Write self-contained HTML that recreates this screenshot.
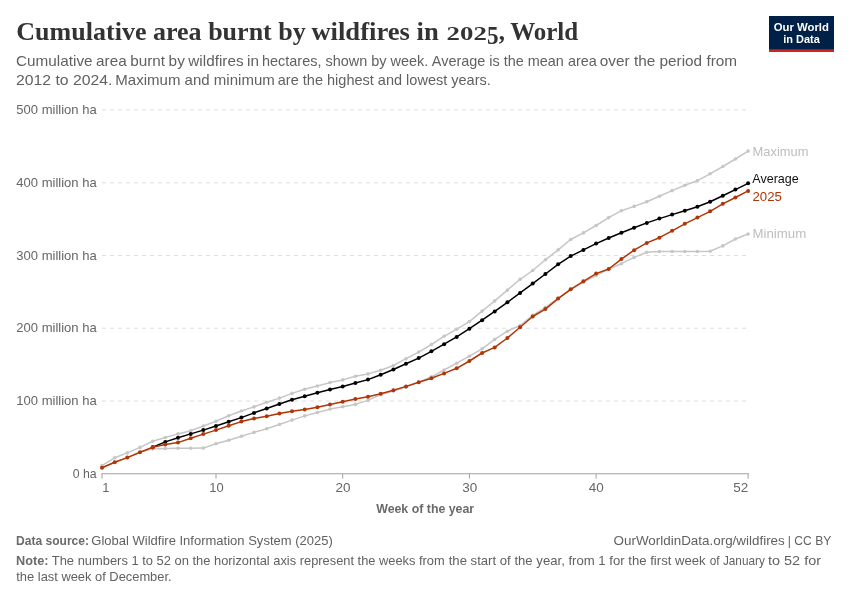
<!DOCTYPE html>
<html lang="en"><head><meta charset="utf-8"><title>Cumulative area burnt by wildfires in 2025, World</title>
<style>
html,body{margin:0;padding:0;background:#fff;}
svg{display:block;font-family:"Liberation Sans",sans-serif;}
.title{font-family:"Liberation Serif",serif;font-weight:bold;font-size:25.6px;fill:#333;}
.sub{font-size:14.4px;fill:#616161;}
.tick{font-size:13.1px;fill:#666;}
.foot{font-size:12.8px;fill:#616161;}
.lab{font-size:13.2px;}
</style></head><body>
<svg width="850" height="600" viewBox="0 0 850 600">
<rect width="850" height="600" fill="#fff"/>
<text class="title"><tspan x="16.3" y="39.8" textLength="289.5" lengthAdjust="spacingAndGlyphs">Cumulative area burnt by</tspan> <tspan x="311.4" y="39.8" textLength="127.3" lengthAdjust="spacingAndGlyphs">wildfires in</tspan> <tspan x="446.6" y="39.8" textLength="40.2" lengthAdjust="spacingAndGlyphs" style="font-size:19.6px">202</tspan><tspan x="487" y="43.6" textLength="11.6" lengthAdjust="spacingAndGlyphs">5</tspan><tspan x="498.8" y="39.8" textLength="6.2" lengthAdjust="spacingAndGlyphs">,</tspan> <tspan x="510.2" y="39.8" textLength="68" lengthAdjust="spacingAndGlyphs">World</tspan></text>

<text class="sub"><tspan x="16" y="66.3" textLength="243" lengthAdjust="spacingAndGlyphs" style="word-spacing:-0.7px">Cumulative area burnt by wildfires in</tspan> <tspan x="262" y="66.3" textLength="166.3" lengthAdjust="spacingAndGlyphs">hectares, shown by week.</tspan> <tspan x="431.8" y="66.3" textLength="165" lengthAdjust="spacingAndGlyphs">Average is the mean area</tspan> <tspan x="599.8" y="66.3" textLength="137.3" lengthAdjust="spacingAndGlyphs">over the period from</tspan></text>
<text class="sub"><tspan x="16" y="84.5" textLength="96.5" lengthAdjust="spacingAndGlyphs">2012 to 2024.</tspan> <tspan x="115.3" y="84.5" textLength="159.5" lengthAdjust="spacingAndGlyphs">Maximum and minimum</tspan> <tspan x="277.8" y="84.5" textLength="213" lengthAdjust="spacingAndGlyphs">are the highest and lowest years.</tspan></text>

<g>
<rect x="769" y="16" width="65" height="36" fill="#002147"/>
<rect x="769" y="49.3" width="65" height="2.7" fill="#ce261e"/>
<text x="801.3" y="30.8" text-anchor="middle" font-size="11" font-weight="bold" fill="#fff" textLength="55.2" lengthAdjust="spacingAndGlyphs">Our World</text>
<text x="801.5" y="42.6" text-anchor="middle" font-size="11" font-weight="bold" fill="#fff" textLength="36.6" lengthAdjust="spacingAndGlyphs">in Data</text>
</g>
<text x="96.7" y="114.0" class="tick" text-anchor="end" textLength="80.4" lengthAdjust="spacingAndGlyphs">500 million ha</text>
<line x1="102" x2="748" y1="110.0" y2="110.0" stroke="#ddd" stroke-width="1" stroke-dasharray="4,4"/>
<text x="96.7" y="186.8" class="tick" text-anchor="end" textLength="80.4" lengthAdjust="spacingAndGlyphs">400 million ha</text>
<line x1="102" x2="748" y1="182.8" y2="182.8" stroke="#ddd" stroke-width="1" stroke-dasharray="4,4"/>
<text x="96.7" y="259.5" class="tick" text-anchor="end" textLength="80.4" lengthAdjust="spacingAndGlyphs">300 million ha</text>
<line x1="102" x2="748" y1="255.5" y2="255.5" stroke="#ddd" stroke-width="1" stroke-dasharray="4,4"/>
<text x="96.7" y="332.2" class="tick" text-anchor="end" textLength="80.4" lengthAdjust="spacingAndGlyphs">200 million ha</text>
<line x1="102" x2="748" y1="328.2" y2="328.2" stroke="#ddd" stroke-width="1" stroke-dasharray="4,4"/>
<text x="96.7" y="405.0" class="tick" text-anchor="end" textLength="80.4" lengthAdjust="spacingAndGlyphs">100 million ha</text>
<line x1="102" x2="748" y1="401.0" y2="401.0" stroke="#ddd" stroke-width="1" stroke-dasharray="4,4"/>
<text x="96.7" y="477.6" class="tick" text-anchor="end" textLength="24" lengthAdjust="spacingAndGlyphs">0 ha</text>

<line x1="101.5" x2="748.7" y1="473.75" y2="473.75" stroke="#a1a1a1" stroke-width="1"/>
<line x1="102.0" x2="102.0" y1="473.75" y2="478.65" stroke="#a1a1a1" stroke-width="1"/>
<line x1="216.0" x2="216.0" y1="473.75" y2="478.65" stroke="#a1a1a1" stroke-width="1"/>
<line x1="342.7" x2="342.7" y1="473.75" y2="478.65" stroke="#a1a1a1" stroke-width="1"/>
<line x1="469.4" x2="469.4" y1="473.75" y2="478.65" stroke="#a1a1a1" stroke-width="1"/>
<line x1="596.1" x2="596.1" y1="473.75" y2="478.65" stroke="#a1a1a1" stroke-width="1"/>
<line x1="748.1" x2="748.1" y1="473.75" y2="478.65" stroke="#a1a1a1" stroke-width="1"/>
<text x="102.2" y="491.7" class="tick" textLength="7.2" lengthAdjust="spacingAndGlyphs">1</text>
<text x="216.4" y="491.7" class="tick" text-anchor="middle" textLength="14.4" lengthAdjust="spacingAndGlyphs">10</text>
<text x="343" y="491.7" class="tick" text-anchor="middle" textLength="15" lengthAdjust="spacingAndGlyphs">20</text>
<text x="469.6901960784314" y="491.7" class="tick" text-anchor="middle" textLength="15" lengthAdjust="spacingAndGlyphs">30</text>
<text x="596.3764705882353" y="491.7" class="tick" text-anchor="middle" textLength="15" lengthAdjust="spacingAndGlyphs">40</text>
<text x="748.3" y="491.7" class="tick" text-anchor="end" textLength="15" lengthAdjust="spacingAndGlyphs">52</text>

<text x="425.2" y="512.9" class="foot" text-anchor="middle" textLength="98" lengthAdjust="spacingAndGlyphs" font-weight="bold" style="fill:#6a6a6a">Week of the year</text>

<polyline fill="none" stroke="#c6c6c6" stroke-width="1.5" stroke-linejoin="round" stroke-linecap="round" points="102.0,465.6 114.7,457.8 127.3,452.9 140.0,447.4 152.7,441.3 165.3,437.5 178.0,433.9 190.7,430.7 203.3,426.0 216.0,421.2 228.7,415.7 241.4,411.0 254.0,406.9 266.7,402.3 279.4,398.1 292.0,393.4 304.7,389.2 317.4,386.0 330.0,382.6 342.7,379.9 355.4,376.3 368.0,373.9 380.7,370.3 393.4,365.5 406.0,358.7 418.7,352.1 431.4,344.5 444.1,336.3 456.7,329.2 469.4,321.6 482.1,311.1 494.7,300.9 507.4,290.1 520.1,279.3 532.7,270.5 545.4,259.8 558.1,249.9 570.7,239.5 583.4,232.9 596.1,225.5 608.7,217.6 621.4,210.7 634.1,206.4 646.8,201.8 659.4,196.2 672.1,190.6 684.8,185.3 697.4,180.7 710.1,173.8 722.8,166.5 735.4,159.0 748.1,151.1"/>
<g fill="#c6c6c6"><circle cx="102.0" cy="465.6" r="1.8"/><circle cx="114.7" cy="457.8" r="1.8"/><circle cx="127.3" cy="452.9" r="1.8"/><circle cx="140.0" cy="447.4" r="1.8"/><circle cx="152.7" cy="441.3" r="1.8"/><circle cx="165.3" cy="437.5" r="1.8"/><circle cx="178.0" cy="433.9" r="1.8"/><circle cx="190.7" cy="430.7" r="1.8"/><circle cx="203.3" cy="426.0" r="1.8"/><circle cx="216.0" cy="421.2" r="1.8"/><circle cx="228.7" cy="415.7" r="1.8"/><circle cx="241.4" cy="411.0" r="1.8"/><circle cx="254.0" cy="406.9" r="1.8"/><circle cx="266.7" cy="402.3" r="1.8"/><circle cx="279.4" cy="398.1" r="1.8"/><circle cx="292.0" cy="393.4" r="1.8"/><circle cx="304.7" cy="389.2" r="1.8"/><circle cx="317.4" cy="386.0" r="1.8"/><circle cx="330.0" cy="382.6" r="1.8"/><circle cx="342.7" cy="379.9" r="1.8"/><circle cx="355.4" cy="376.3" r="1.8"/><circle cx="368.0" cy="373.9" r="1.8"/><circle cx="380.7" cy="370.3" r="1.8"/><circle cx="393.4" cy="365.5" r="1.8"/><circle cx="406.0" cy="358.7" r="1.8"/><circle cx="418.7" cy="352.1" r="1.8"/><circle cx="431.4" cy="344.5" r="1.8"/><circle cx="444.1" cy="336.3" r="1.8"/><circle cx="456.7" cy="329.2" r="1.8"/><circle cx="469.4" cy="321.6" r="1.8"/><circle cx="482.1" cy="311.1" r="1.8"/><circle cx="494.7" cy="300.9" r="1.8"/><circle cx="507.4" cy="290.1" r="1.8"/><circle cx="520.1" cy="279.3" r="1.8"/><circle cx="532.7" cy="270.5" r="1.8"/><circle cx="545.4" cy="259.8" r="1.8"/><circle cx="558.1" cy="249.9" r="1.8"/><circle cx="570.7" cy="239.5" r="1.8"/><circle cx="583.4" cy="232.9" r="1.8"/><circle cx="596.1" cy="225.5" r="1.8"/><circle cx="608.7" cy="217.6" r="1.8"/><circle cx="621.4" cy="210.7" r="1.8"/><circle cx="634.1" cy="206.4" r="1.8"/><circle cx="646.8" cy="201.8" r="1.8"/><circle cx="659.4" cy="196.2" r="1.8"/><circle cx="672.1" cy="190.6" r="1.8"/><circle cx="684.8" cy="185.3" r="1.8"/><circle cx="697.4" cy="180.7" r="1.8"/><circle cx="710.1" cy="173.8" r="1.8"/><circle cx="722.8" cy="166.5" r="1.8"/><circle cx="735.4" cy="159.0" r="1.8"/><circle cx="748.1" cy="151.1" r="1.8"/></g>

<polyline fill="none" stroke="#c6c6c6" stroke-width="1.5" stroke-linejoin="round" stroke-linecap="round" points="102.0,467.8 114.7,462.3 127.3,457.6 140.0,452.3 152.7,448.9 165.3,448.5 178.0,448.3 190.7,448.3 203.3,448.1 216.0,443.8 228.7,440.2 241.4,436.2 254.0,432.4 266.7,428.7 279.4,424.5 292.0,420.1 304.7,415.9 317.4,412.5 330.0,409.1 342.7,406.7 355.4,404.4 368.0,400.4 380.7,394.5 393.4,391.1 406.0,387.1 418.7,382.4 431.4,376.8 444.1,370.0 456.7,363.2 469.4,356.2 482.1,348.8 494.7,339.4 507.4,331.2 520.1,325.5 532.7,315.3 545.4,307.4 558.1,298.3 570.7,289.4 583.4,282.2 596.1,275.6 608.7,269.0 621.4,263.7 634.1,257.4 646.8,252.2 659.4,251.5 672.1,251.5 684.8,251.5 697.4,251.5 710.1,251.2 722.8,245.9 735.4,239.0 748.1,234.0"/>
<g fill="#c6c6c6"><circle cx="102.0" cy="467.8" r="1.8"/><circle cx="114.7" cy="462.3" r="1.8"/><circle cx="127.3" cy="457.6" r="1.8"/><circle cx="140.0" cy="452.3" r="1.8"/><circle cx="152.7" cy="448.9" r="1.8"/><circle cx="165.3" cy="448.5" r="1.8"/><circle cx="178.0" cy="448.3" r="1.8"/><circle cx="190.7" cy="448.3" r="1.8"/><circle cx="203.3" cy="448.1" r="1.8"/><circle cx="216.0" cy="443.8" r="1.8"/><circle cx="228.7" cy="440.2" r="1.8"/><circle cx="241.4" cy="436.2" r="1.8"/><circle cx="254.0" cy="432.4" r="1.8"/><circle cx="266.7" cy="428.7" r="1.8"/><circle cx="279.4" cy="424.5" r="1.8"/><circle cx="292.0" cy="420.1" r="1.8"/><circle cx="304.7" cy="415.9" r="1.8"/><circle cx="317.4" cy="412.5" r="1.8"/><circle cx="330.0" cy="409.1" r="1.8"/><circle cx="342.7" cy="406.7" r="1.8"/><circle cx="355.4" cy="404.4" r="1.8"/><circle cx="368.0" cy="400.4" r="1.8"/><circle cx="380.7" cy="394.5" r="1.8"/><circle cx="393.4" cy="391.1" r="1.8"/><circle cx="406.0" cy="387.1" r="1.8"/><circle cx="418.7" cy="382.4" r="1.8"/><circle cx="431.4" cy="376.8" r="1.8"/><circle cx="444.1" cy="370.0" r="1.8"/><circle cx="456.7" cy="363.2" r="1.8"/><circle cx="469.4" cy="356.2" r="1.8"/><circle cx="482.1" cy="348.8" r="1.8"/><circle cx="494.7" cy="339.4" r="1.8"/><circle cx="507.4" cy="331.2" r="1.8"/><circle cx="520.1" cy="325.5" r="1.8"/><circle cx="532.7" cy="315.3" r="1.8"/><circle cx="545.4" cy="307.4" r="1.8"/><circle cx="558.1" cy="298.3" r="1.8"/><circle cx="570.7" cy="289.4" r="1.8"/><circle cx="583.4" cy="282.2" r="1.8"/><circle cx="596.1" cy="275.6" r="1.8"/><circle cx="608.7" cy="269.0" r="1.8"/><circle cx="621.4" cy="263.7" r="1.8"/><circle cx="634.1" cy="257.4" r="1.8"/><circle cx="646.8" cy="252.2" r="1.8"/><circle cx="659.4" cy="251.5" r="1.8"/><circle cx="672.1" cy="251.5" r="1.8"/><circle cx="684.8" cy="251.5" r="1.8"/><circle cx="697.4" cy="251.5" r="1.8"/><circle cx="710.1" cy="251.2" r="1.8"/><circle cx="722.8" cy="245.9" r="1.8"/><circle cx="735.4" cy="239.0" r="1.8"/><circle cx="748.1" cy="234.0" r="1.8"/></g>

<polyline fill="none" stroke="#000" stroke-width="1.5" stroke-linejoin="round" stroke-linecap="round" points="152.7,447.2 165.3,441.9 178.0,437.7 190.7,433.9 203.3,430.1 216.0,426.0 228.7,421.8 241.4,417.6 254.0,412.9 266.7,408.5 279.4,404.0 292.0,399.8 304.7,396.2 317.4,392.8 330.0,389.6 342.7,386.4 355.4,383.0 368.0,379.6 380.7,374.8 393.4,369.5 406.0,363.8 418.7,358.1 431.4,351.3 444.1,344.2 456.7,336.9 469.4,328.7 482.1,320.2 494.7,311.4 507.4,302.3 520.1,292.9 532.7,283.6 545.4,274.0 558.1,264.3 570.7,256.1 583.4,249.9 596.1,243.6 608.7,238.0 621.4,232.7 634.1,227.8 646.8,222.9 659.4,218.6 672.1,214.6 684.8,210.7 697.4,206.7 710.1,201.8 722.8,195.8 735.4,189.6 748.1,183.3"/>
<g fill="#000"><circle cx="152.7" cy="447.2" r="2.0"/><circle cx="165.3" cy="441.9" r="2.0"/><circle cx="178.0" cy="437.7" r="2.0"/><circle cx="190.7" cy="433.9" r="2.0"/><circle cx="203.3" cy="430.1" r="2.0"/><circle cx="216.0" cy="426.0" r="2.0"/><circle cx="228.7" cy="421.8" r="2.0"/><circle cx="241.4" cy="417.6" r="2.0"/><circle cx="254.0" cy="412.9" r="2.0"/><circle cx="266.7" cy="408.5" r="2.0"/><circle cx="279.4" cy="404.0" r="2.0"/><circle cx="292.0" cy="399.8" r="2.0"/><circle cx="304.7" cy="396.2" r="2.0"/><circle cx="317.4" cy="392.8" r="2.0"/><circle cx="330.0" cy="389.6" r="2.0"/><circle cx="342.7" cy="386.4" r="2.0"/><circle cx="355.4" cy="383.0" r="2.0"/><circle cx="368.0" cy="379.6" r="2.0"/><circle cx="380.7" cy="374.8" r="2.0"/><circle cx="393.4" cy="369.5" r="2.0"/><circle cx="406.0" cy="363.8" r="2.0"/><circle cx="418.7" cy="358.1" r="2.0"/><circle cx="431.4" cy="351.3" r="2.0"/><circle cx="444.1" cy="344.2" r="2.0"/><circle cx="456.7" cy="336.9" r="2.0"/><circle cx="469.4" cy="328.7" r="2.0"/><circle cx="482.1" cy="320.2" r="2.0"/><circle cx="494.7" cy="311.4" r="2.0"/><circle cx="507.4" cy="302.3" r="2.0"/><circle cx="520.1" cy="292.9" r="2.0"/><circle cx="532.7" cy="283.6" r="2.0"/><circle cx="545.4" cy="274.0" r="2.0"/><circle cx="558.1" cy="264.3" r="2.0"/><circle cx="570.7" cy="256.1" r="2.0"/><circle cx="583.4" cy="249.9" r="2.0"/><circle cx="596.1" cy="243.6" r="2.0"/><circle cx="608.7" cy="238.0" r="2.0"/><circle cx="621.4" cy="232.7" r="2.0"/><circle cx="634.1" cy="227.8" r="2.0"/><circle cx="646.8" cy="222.9" r="2.0"/><circle cx="659.4" cy="218.6" r="2.0"/><circle cx="672.1" cy="214.6" r="2.0"/><circle cx="684.8" cy="210.7" r="2.0"/><circle cx="697.4" cy="206.7" r="2.0"/><circle cx="710.1" cy="201.8" r="2.0"/><circle cx="722.8" cy="195.8" r="2.0"/><circle cx="735.4" cy="189.6" r="2.0"/><circle cx="748.1" cy="183.3" r="2.0"/></g>

<polyline fill="none" stroke="#b13507" stroke-width="1.5" stroke-linejoin="round" stroke-linecap="round" points="102.0,467.8 114.7,462.3 127.3,457.6 140.0,452.3 152.7,447.2 165.3,444.5 178.0,442.6 190.7,438.3 203.3,434.1 216.0,430.1 228.7,425.8 241.4,421.6 254.0,418.5 266.7,416.2 279.4,413.5 292.0,411.2 304.7,409.5 317.4,407.2 330.0,404.4 342.7,401.7 355.4,399.1 368.0,396.8 380.7,393.8 393.4,390.2 406.0,386.4 418.7,382.3 431.4,378.3 444.1,373.4 456.7,368.3 469.4,361.0 482.1,353.0 494.7,347.4 507.4,338.0 520.1,327.2 532.7,316.5 545.4,309.1 558.1,298.6 570.7,289.3 583.4,281.3 596.1,273.6 608.7,269.0 621.4,259.1 634.1,250.2 646.8,242.9 659.4,237.7 672.1,230.8 684.8,223.8 697.4,217.6 710.1,211.3 722.8,203.8 735.4,197.5 748.1,190.9"/>
<g fill="#b13507"><circle cx="102.0" cy="467.8" r="2.0"/><circle cx="114.7" cy="462.3" r="2.0"/><circle cx="127.3" cy="457.6" r="2.0"/><circle cx="140.0" cy="452.3" r="2.0"/><circle cx="152.7" cy="447.2" r="2.0"/><circle cx="165.3" cy="444.5" r="2.0"/><circle cx="178.0" cy="442.6" r="2.0"/><circle cx="190.7" cy="438.3" r="2.0"/><circle cx="203.3" cy="434.1" r="2.0"/><circle cx="216.0" cy="430.1" r="2.0"/><circle cx="228.7" cy="425.8" r="2.0"/><circle cx="241.4" cy="421.6" r="2.0"/><circle cx="254.0" cy="418.5" r="2.0"/><circle cx="266.7" cy="416.2" r="2.0"/><circle cx="279.4" cy="413.5" r="2.0"/><circle cx="292.0" cy="411.2" r="2.0"/><circle cx="304.7" cy="409.5" r="2.0"/><circle cx="317.4" cy="407.2" r="2.0"/><circle cx="330.0" cy="404.4" r="2.0"/><circle cx="342.7" cy="401.7" r="2.0"/><circle cx="355.4" cy="399.1" r="2.0"/><circle cx="368.0" cy="396.8" r="2.0"/><circle cx="380.7" cy="393.8" r="2.0"/><circle cx="393.4" cy="390.2" r="2.0"/><circle cx="406.0" cy="386.4" r="2.0"/><circle cx="418.7" cy="382.3" r="2.0"/><circle cx="431.4" cy="378.3" r="2.0"/><circle cx="444.1" cy="373.4" r="2.0"/><circle cx="456.7" cy="368.3" r="2.0"/><circle cx="469.4" cy="361.0" r="2.0"/><circle cx="482.1" cy="353.0" r="2.0"/><circle cx="494.7" cy="347.4" r="2.0"/><circle cx="507.4" cy="338.0" r="2.0"/><circle cx="520.1" cy="327.2" r="2.0"/><circle cx="532.7" cy="316.5" r="2.0"/><circle cx="545.4" cy="309.1" r="2.0"/><circle cx="558.1" cy="298.6" r="2.0"/><circle cx="570.7" cy="289.3" r="2.0"/><circle cx="583.4" cy="281.3" r="2.0"/><circle cx="596.1" cy="273.6" r="2.0"/><circle cx="608.7" cy="269.0" r="2.0"/><circle cx="621.4" cy="259.1" r="2.0"/><circle cx="634.1" cy="250.2" r="2.0"/><circle cx="646.8" cy="242.9" r="2.0"/><circle cx="659.4" cy="237.7" r="2.0"/><circle cx="672.1" cy="230.8" r="2.0"/><circle cx="684.8" cy="223.8" r="2.0"/><circle cx="697.4" cy="217.6" r="2.0"/><circle cx="710.1" cy="211.3" r="2.0"/><circle cx="722.8" cy="203.8" r="2.0"/><circle cx="735.4" cy="197.5" r="2.0"/><circle cx="748.1" cy="190.9" r="2.0"/></g>

<text x="752.5" y="155.7" class="lab" textLength="56" lengthAdjust="spacingAndGlyphs" fill="#bdbdbd">Maximum</text>

<text x="752.3" y="182.5" class="lab" textLength="46.5" lengthAdjust="spacingAndGlyphs" fill="#111">Average</text>

<text x="752.5" y="200.7" class="lab" textLength="29.4" lengthAdjust="spacingAndGlyphs" fill="#b13507">2025</text>

<text x="752.5" y="238.4" class="lab" textLength="53.7" lengthAdjust="spacingAndGlyphs" fill="#bdbdbd">Minimum</text>

<text class="foot"><tspan x="16" y="544.6" textLength="73" lengthAdjust="spacingAndGlyphs" font-weight="bold" style="fill:#6a6a6a">Data source:</tspan> <tspan x="91.3" y="544.6" textLength="241.5" lengthAdjust="spacingAndGlyphs">Global Wildfire Information System (2025)</tspan></text>
<text class="foot"><tspan x="613.6" y="544.6" textLength="171.2" lengthAdjust="spacingAndGlyphs">OurWorldinData.org/wildfires</tspan> <tspan x="787.8" y="544.6" textLength="43.5" lengthAdjust="spacingAndGlyphs">| CC BY</tspan></text>
<text class="foot"><tspan x="16" y="565.1" textLength="32.5" lengthAdjust="spacingAndGlyphs" font-weight="bold" style="fill:#6a6a6a">Note:</tspan> <tspan x="51.8" y="565.1" textLength="158.6" lengthAdjust="spacingAndGlyphs">The numbers 1 to 52 on the</tspan> <tspan x="214" y="565.1" textLength="230.7" lengthAdjust="spacingAndGlyphs">horizontal axis represent the weeks from</tspan> <tspan x="448.7" y="565.1" textLength="257" lengthAdjust="spacingAndGlyphs">the start of the year, from 1 for the first week</tspan> <tspan x="709.8" y="565.1" textLength="55" lengthAdjust="spacingAndGlyphs">of January</tspan> <tspan x="768" y="565.1" textLength="53" lengthAdjust="spacingAndGlyphs">to 52 for</tspan></text>
<text class="foot"><tspan x="16.3" y="580.8" textLength="155.3" lengthAdjust="spacingAndGlyphs">the last week of December.</tspan></text>

</svg>
</body></html>
